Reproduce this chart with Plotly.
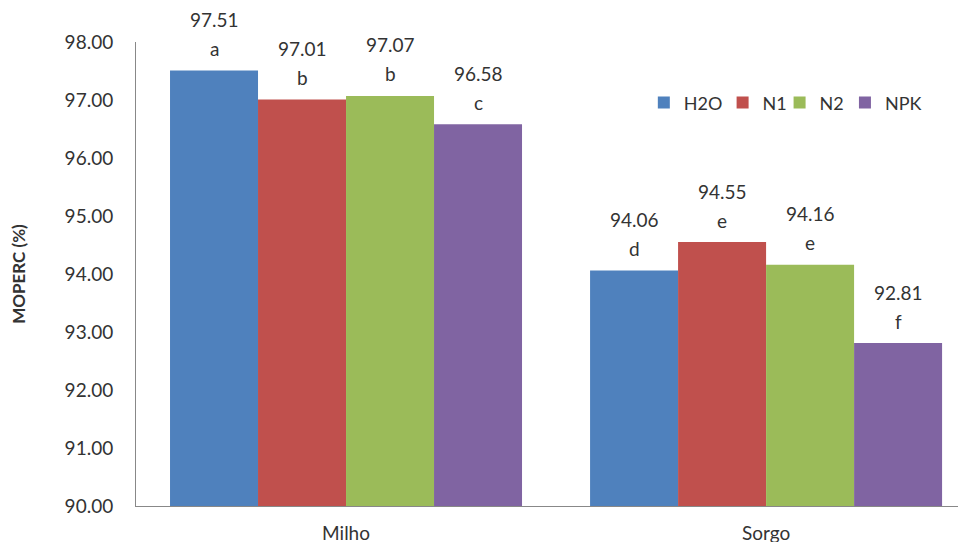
import plotly.graph_objects as go

categories = ["Milho", "Sorgo"]
series_names = ["H2O", "N1", "N2", "NPK"]
values = {
    "H2O": [97.51, 94.06],
    "N1": [97.01, 94.55],
    "N2": [97.07, 94.16],
    "NPK": [96.58, 92.81],
}
letters = {
    "H2O": ["a", "d"],
    "N1": ["b", "e"],
    "N2": ["b", "e"],
    "NPK": ["c", "f"],
}
colors = {"H2O": "#4F81BD", "N1": "#C0504D", "N2": "#9BBB59", "NPK": "#8064A2"}
y_ticks = [90, 91, 92, 93, 94, 95, 96, 97, 98]

FONT = "Lato, 'Open Sans', sans-serif"
TXT = "#333333"
W, H = 966, 542
ml, mr, mt, mb = 128, 0, 34, 44
bargap = 0.162
xmax = 1.495
plot_w = W - ml - mr
px_per_cat = plot_w / (xmax + 0.5)
bar_w_px = px_per_cat * (1 - bargap) / len(series_names)

# legend entry x positions (paper fraction)
legend_x = [0.606, 0.700, 0.768, 0.846]

fig = go.Figure()
for i, s in enumerate(series_names):
    lg = "legend" if i == 0 else f"legend{i + 1}"
    fig.add_trace(go.Bar(
        name=s, x=categories, y=values[s],
        marker=dict(color=colors[s], line=dict(width=0)),
        hoverinfo="skip", legend=lg,
    ))
    offset = (i - (len(series_names) - 1) / 2) * bar_w_px
    for c, v, l in zip(categories, values[s], letters[s]):
        fig.add_annotation(x=c, y=v, xref="x", yref="y", text=l, showarrow=False,
                           xshift=offset, yshift=22, yanchor="middle",
                           font=dict(family=FONT, size=19, color=TXT))
        fig.add_annotation(x=c, y=v, xref="x", yref="y", text=f"{v:.2f}", showarrow=False,
                           xshift=offset, yshift=51, yanchor="middle",
                           font=dict(family=FONT, size=19, color=TXT))

legend_style = dict(orientation="h", y=0.869, xanchor="left", yanchor="middle",
                    font=dict(family=FONT, size=18, color=TXT),
                    itemwidth=30, bgcolor="rgba(0,0,0,0)")
layout_legends = {}
for i, lx in enumerate(legend_x):
    key = "legend" if i == 0 else f"legend{i + 1}"
    layout_legends[key] = dict(x=lx, **legend_style)

fig.update_layout(
    width=W, height=H,
    margin=dict(l=ml, r=mr, t=mt, b=mb),
    paper_bgcolor="white", plot_bgcolor="white",
    barmode="group", bargap=bargap, bargroupgap=0,
    font=dict(family=FONT, size=17, color=TXT),
    showlegend=True,
    **layout_legends,
)
fig.update_xaxes(range=[-0.5, xmax], showline=True, linecolor="#888", linewidth=1,
                 ticks="", tickfont=dict(family=FONT, size=19, color=TXT),
                 ticklabelstandoff=10,
                 showgrid=False, zeroline=False, fixedrange=True)
fig.update_yaxes(range=[90, 98], tickvals=y_ticks, ticktext=[f"{t:.2f}" for t in y_ticks],
                 showline=True, linecolor="#888", linewidth=1, ticks="",
                 tickfont=dict(family=FONT, size=19, color=TXT),
                 ticklabelstandoff=18,
                 showgrid=False, zeroline=False,
                 title=dict(text="<b>MOPERC (%)</b>", font=dict(family=FONT, size=17, color=TXT),
                            standoff=34))

fig.write_html("out.html")
